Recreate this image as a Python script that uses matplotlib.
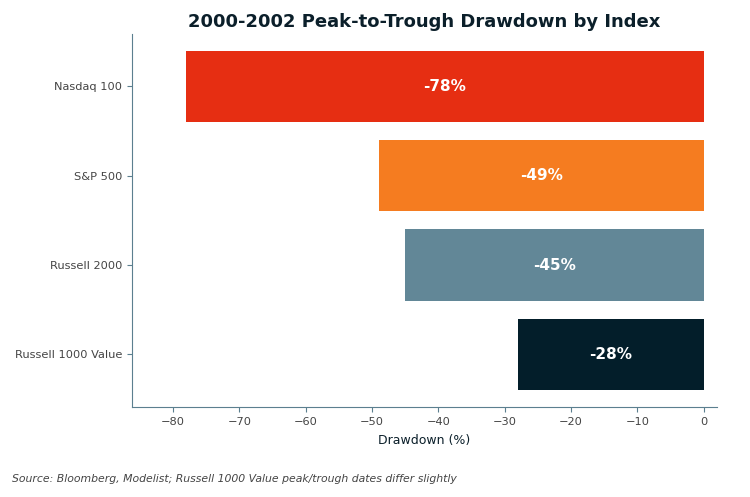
import matplotlib
matplotlib.use('Agg')
import matplotlib.pyplot as plt

indices = ['Nasdaq 100', 'S&P 500', 'Russell 2000', 'Russell 1000 Value']
drawdowns = [-78, -49, -45, -28]
colors = ['#E62E12', '#F57C20', '#628797', '#031E2A']

fig, ax = plt.subplots(figsize=(7.5, 4.97), dpi=100)
fig.subplots_adjust(left=0.176, right=0.956, top=0.932, bottom=0.181)

pos = list(range(len(indices)))
ax.barh(pos, drawdowns, height=0.8, color=colors)
ax.invert_yaxis()
ax.set_yticks(pos)
ax.set_yticklabels(indices)

for p, v in zip(pos, drawdowns):
    ax.text(v / 2, p, f'{v}%', ha='center', va='center',
            color='white', fontsize=11, fontweight='bold')

ax.set_xlim(min(drawdowns) * 1.105, 2)
ax.set_xlabel('Drawdown (%)', fontsize=9, color='#0B1F2A', labelpad=5)
ax.set_title('2000-2002 Peak-to-Trough Drawdown by Index',
             fontsize=13, fontweight='bold', color='#0B1F2A', pad=5)

for s in ['top', 'right']:
    ax.spines[s].set_visible(False)
for s in ['left', 'bottom']:
    ax.spines[s].set_color('#5B7F8F')
ax.tick_params(colors='#444444', labelsize=8.2)
ax.tick_params(axis='both', color='#5B7F8F')

fig.text(0.016, 0.030, 'Source: Bloomberg, Modelist; Russell 1000 Value peak/trough dates differ slightly',
         fontsize=7.8, style='italic', color='#444444')

fig.savefig('out.png')
